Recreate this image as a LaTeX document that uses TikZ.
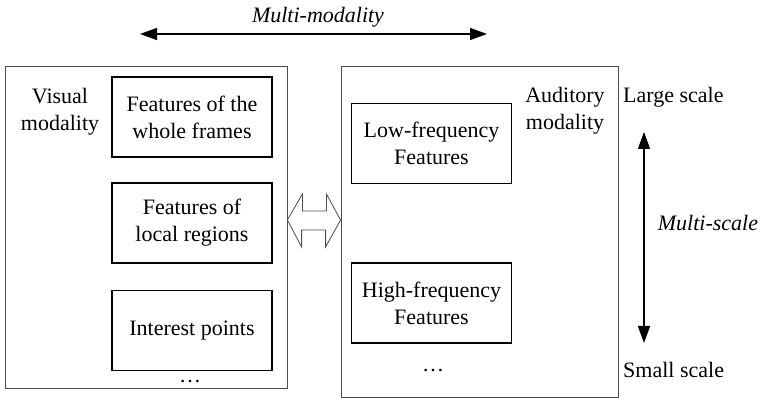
\documentclass[tikz,border=0pt]{standalone}
\usepackage{fontspec}
\setmainfont{Liberation Serif}
\usetikzlibrary{arrows.meta}
\begin{document}
\begin{tikzpicture}[x=1pt,y=-1pt,
  every node/.style={font=\fontsize{22}{27}\selectfont, inner sep=0pt},
  outerbox/.style={draw=black!70, line width=0.8pt},
  featbox/.style={draw=black, line width=1.9pt, minimum width=160pt, minimum height=80pt, align=center},
  lbl/.style={align=center},
  dblarrow/.style={line width=1.3pt, {Triangle[length=17pt,width=12pt]}-{Triangle[length=17pt,width=12pt]}},
  hollow/.style={draw=black!70, line width=0.8pt, fill=white}
]
\useasboundingbox (0,0) rectangle (761,398);

% outer boxes
\node[outerbox, minimum width=282pt, minimum height=322pt] (L) at (146,227) {};
\node[outerbox, minimum width=277pt, minimum height=331pt] (R) at (479.5,231.5) {};

% left feature boxes
\node[featbox] (f1) at (192,117) {Features of the\\whole frames};
\node[featbox] (f2) at (192,223) {Features of\\local regions};
\node[featbox] (f3) at (192,330.5) {Interest points};
\node (ldots) at (190,382) {\dots};
\node[lbl] (vis) at (60,112) {Visual\\modality};

% right feature boxes
\node[featbox] (a1) at (431.5,143.5) {Low-frequency\\Features};
\node[featbox] (a2) at (431.5,303) {High-frequency\\Features};
\node (rdots) at (433,371) {\dots};
\node[lbl] (aud) at (565,111) {Auditory\\modality};

% hollow double arrow between modalities
\coordinate (hl) at (L.east |- 0,220);
\coordinate (hr) at (R.west |- 0,220);
\draw[hollow] (hl) -- ++(15,-26) -- ++(0,17) -- ++(24,0) -- ++(0,-17)
  -- (hr) -- ++(-15,27) -- ++(0,-17) -- ++(-24,0) -- ++(0,17) -- cycle;

% multi-modality arrow
\coordinate (mm1) at (140,34);
\coordinate (mm2) at (487,34);
\draw[dblarrow] (mm1) -- (mm2);
\node[font=\fontsize{22}{27}\selectfont\itshape] (mmt) at (318,17) {Multi-modality};

% multi-scale arrow
\node[anchor=west] (ls) at (623,97) {Large scale};
\node[anchor=west] (ss) at (623,370) {Small scale};
\coordinate (ms1) at (644,132);
\coordinate (ms2) at (644,343);
\draw[dblarrow] (ms1) -- (ms2);
\node[font=\fontsize{22}{27}\selectfont\itshape] (mst) at (708,223) {Multi-scale};
\end{tikzpicture}
\end{document}
